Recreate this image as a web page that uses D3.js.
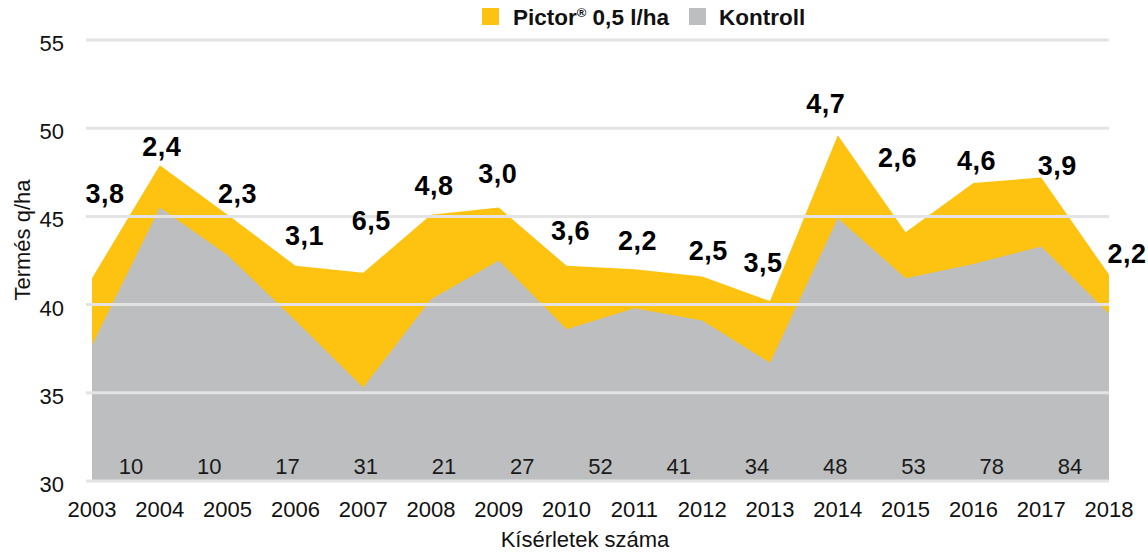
<!DOCTYPE html>
<html>
<head>
<meta charset="utf-8">
<script src="https://cdn.jsdelivr.net/npm/d3@7"></script>
<style>
  html, body { margin: 0; padding: 0; background: #fff; }
  svg { display: block; }
  text { font-family: "Liberation Sans", Arial, Helvetica, sans-serif; }
</style>
</head>
<body>
<svg id="chart" width="1148" height="554"></svg>
<script>
// Yield per year (q/ha)
const years    = [2003, 2004, 2005, 2006, 2007, 2008, 2009, 2010, 2011, 2012, 2013, 2014, 2015, 2016, 2017, 2018];
const pictor   = [41.5, 47.9, 45.1, 42.2, 41.8, 45.1, 45.5, 42.2, 42.0, 41.6, 40.2, 49.6, 44.1, 46.9, 47.2, 41.7];
const kontroll = [37.7, 45.5, 42.8, 39.1, 35.3, 40.3, 42.5, 38.6, 39.8, 39.1, 36.7, 44.9, 41.5, 42.3, 43.3, 39.5];
// Yield gain of the treatment over the control
const gain     = [3.8, 2.4, 2.3, 3.1, 6.5, 4.8, 3.0, 3.6, 2.2, 2.5, 3.5, 4.7, 2.6, 4.6, 3.9, 2.2];
// Number of trials
const trials   = [10, 10, 17, 31, 21, 27, 52, 41, 34, 48, 53, 78, 84];
const yTicks   = [30, 35, 40, 45, 50, 55];

const seriesNames = ["Pictor", "Kontroll"];
const colors = { Pictor: "#fec211", Kontroll: "#bdbebf" };

// Hand placement of the gain labels (pixel nudges from each Pictor point)
const labelNudge = [
  [13, -75], [2, -9], [10, -12], [9, -21], [8, -43], [3, -20], [-1, -25], [4, -26],
  [3, -19], [6, -16], [-7, -29], [-12, -22], [-8, -65], [3, -13], [16, -3], [18, -12]
];

const svg = d3.select("#chart");
const plotLeft = 92, plotRight = 1109, plotTop = 40, plotBottom = 481;

const x = d3.scaleLinear().domain([d3.min(years), d3.max(years)]).range([plotLeft, plotRight]);
const y = d3.scaleLinear().domain([30, 55]).range([plotBottom, plotTop]);
const xTrials = d3.scaleBand().domain(trials.map((d, i) => i)).range([plotLeft, plotRight]);

const rows = years.map((yr, i) => ({ year: yr, p: pictor[i], k: kontroll[i], g: gain[i] }));

// Areas: treatment behind, control in front
const areaP = d3.area().x(d => x(d.year)).y0(y(30)).y1(d => y(d.p));
const areaK = d3.area().x(d => x(d.year)).y0(y(30)).y1(d => y(d.k));

svg.append("path").datum(rows).attr("d", areaP).attr("fill", colors.Pictor);
svg.append("path").datum(rows).attr("d", areaK).attr("fill", colors.Kontroll);

// Grid lines over the areas
svg.append("g").selectAll("line").data(yTicks).join("line")
  .attr("x1", 86).attr("x2", plotRight)
  .attr("y1", d => y(d)).attr("y2", d => y(d))
  .attr("stroke", "#e3e3e3").attr("stroke-width", 3);

// Y tick labels
svg.append("g").selectAll("text").data(yTicks).join("text")
  .attr("x", 64).attr("y", d => y(d) + 11)
  .attr("text-anchor", "end")
  .attr("font-size", 22).attr("fill", "#111")
  .text(d => d);

// Year labels
svg.append("g").selectAll("text").data(years).join("text")
  .attr("x", d => x(d)).attr("y", 517)
  .attr("text-anchor", "middle")
  .attr("font-size", 22).attr("fill", "#111")
  .text(d => d);

// Trial counts along the bottom of the plot
svg.append("g").selectAll("text").data(trials).join("text")
  .attr("x", (d, i) => xTrials(i) + xTrials.bandwidth() / 2).attr("y", 474)
  .attr("text-anchor", "middle")
  .attr("font-size", 22).attr("fill", "#1a1a1a")
  .text(d => d);

// Gain labels
const fmt = v => d3.format(".1f")(v).replace(".", ",");
svg.append("g").selectAll("text").data(rows).join("text")
  .attr("x", (d, i) => x(d.year) + labelNudge[i][0])
  .attr("y", (d, i) => y(d.p) + labelNudge[i][1])
  .attr("text-anchor", "middle")
  .attr("font-size", 27).attr("font-weight", "bold").attr("fill", "#000")
  .attr("letter-spacing", 0.5)
  .text(d => fmt(d.g));

// Axis titles
svg.append("text")
  .attr("transform", "translate(30,240) rotate(-90)")
  .attr("text-anchor", "middle")
  .attr("font-size", 22).attr("fill", "#111")
  .text("Termés q/ha");

svg.append("text")
  .attr("x", 585).attr("y", 547)
  .attr("text-anchor", "middle")
  .attr("font-size", 22).attr("fill", "#111")
  .text("Kísérletek száma");

// Legend
const legend = svg.append("g");
legend.append("rect").attr("x", 482).attr("y", 8).attr("width", 17).attr("height", 17).attr("fill", colors.Pictor);
const lt = legend.append("text").attr("x", 513).attr("y", 25)
  .attr("font-size", 22.5).attr("font-weight", "bold").attr("fill", "#111");
lt.append("tspan").text(seriesNames[0]);
lt.append("tspan").attr("font-size", 13).attr("dy", -8).text("®");
lt.append("tspan").attr("dy", 8).text(" 0,5 l/ha");

legend.append("rect").attr("x", 689).attr("y", 8).attr("width", 17).attr("height", 17).attr("fill", colors.Kontroll);
legend.append("text").attr("x", 719).attr("y", 25)
  .attr("font-size", 22.5).attr("font-weight", "bold").attr("fill", "#111")
  .text(seriesNames[1]);
</script>
</body>
</html>
